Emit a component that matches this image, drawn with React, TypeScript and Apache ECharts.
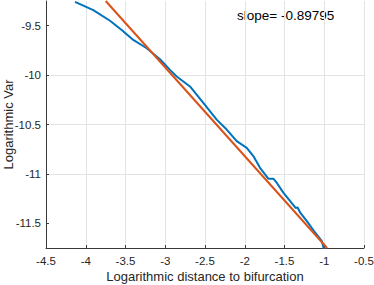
import React, { useEffect, useRef } from "react";
import * as echarts from "echarts";

// Empirical data (log distance to bifurcation vs log variance)
const dataX = [-4.135, -3.905, -3.695, -3.548, -3.402, -3.233, -3.066, -2.94, -2.856, -2.689, -2.521, -2.353, -2.227, -2.101, -1.975, -1.892, -1.808, -1.704, -1.641, -1.598, -1.515, -1.36, -1.335, -1.3, -1.221, -1.116, -1.032, -1.005];
const dataY = [-9.258, -9.342, -9.45, -9.543, -9.644, -9.728, -9.839, -9.947, -10.014, -10.115, -10.282, -10.451, -10.551, -10.669, -10.736, -10.82, -10.938, -11.048, -11.048, -11.089, -11.19, -11.345, -11.34, -11.395, -11.476, -11.593, -11.677, -11.76];

// Fitted line endpoints
const fitX = [-3.749, -0.964];
const fitY = [-9.25, -11.75];

const yTicks = [-11.5, -11, -10.5, -10, -9.5];
const slopeLabel = "slope= -0.89795";
const xTitle = "Logarithmic distance to bifurcation";
const yTitle = "Logarithmic Var";

const FONT = "'Liberation Sans', Arial, Helvetica, sans-serif";
const TXT = "#262626";

export default function App() {
  const ref = useRef<HTMLDivElement>(null);
  useEffect(() => {
    if (!ref.current) return;
    const chart = echarts.init(ref.current, undefined, { renderer: "svg" });
    chart.setOption({
      animation: false,
      backgroundColor: "#ffffff",
      grid: { left: 46, right: 10, top: 1, bottom: 37, containLabel: false, outerBoundsMode: "none" },
      xAxis: {
        type: "value",
        min: -4.5,
        max: -0.5,
        interval: 0.5,
        name: xTitle,
        nameLocation: "middle",
        nameGap: 22,
        nameMoveOverlap: false,
        nameTextStyle: { fontFamily: FONT, fontSize: 13, color: TXT },
        axisLine: { show: true, onZero: false, lineStyle: { color: "#3a3a3a", width: 1 } },
        axisTick: { show: true, inside: true, length: 3, lineStyle: { color: "#3a3a3a" } },
        axisLabel: { fontFamily: FONT, fontSize: 11.5, color: TXT, margin: 7 },
        splitLine: { show: true, showMinLine: false, showMaxLine: true, lineStyle: { color: "#e3e3e3", width: 1 } },
      },
      yAxis: {
        type: "value",
        min: -11.75,
        max: -9.25,
        name: yTitle,
        nameLocation: "middle",
        nameGap: 31,
        nameRotate: 90,
        nameMoveOverlap: false,
        nameTextStyle: { fontFamily: FONT, fontSize: 13, color: TXT },
        axisLine: { show: true, onZero: false, lineStyle: { color: "#3a3a3a", width: 1 } },
        axisTick: { show: true, inside: true, length: 3, customValues: yTicks, lineStyle: { color: "#3a3a3a" } },
        axisLabel: { fontFamily: FONT, fontSize: 11.5, color: TXT, margin: 5, customValues: yTicks },
        splitLine: { show: true, showMinLine: false, showMaxLine: false, lineStyle: { color: "#e3e3e3", width: 1 } },
      },
      graphic: [
        {
          type: "text",
          left: 237,
          top: 8,
          style: { text: slopeLabel, fontFamily: FONT, fontSize: 13.5, fill: "#000000" },
        },
      ],
      series: [
        {
          type: "line",
          data: dataX.map((x, i) => [x, dataY[i]]),
          showSymbol: false,
          symbol: "none",
          lineStyle: { color: "#0072BD", width: 2 },
          clip: true,
          z: 2,
        },
        {
          type: "line",
          data: fitX.map((x, i) => [x, fitY[i]]),
          showSymbol: false,
          symbol: "none",
          lineStyle: { color: "#D95319", width: 2 },
          clip: true,
          z: 3,
        },
      ],
    });
    return () => chart.dispose();
  }, []);
  return (
    <div
      ref={ref}
      style={{ position: "fixed", left: 0, top: 0, width: 374, height: 285 }}
    />
  );
}
